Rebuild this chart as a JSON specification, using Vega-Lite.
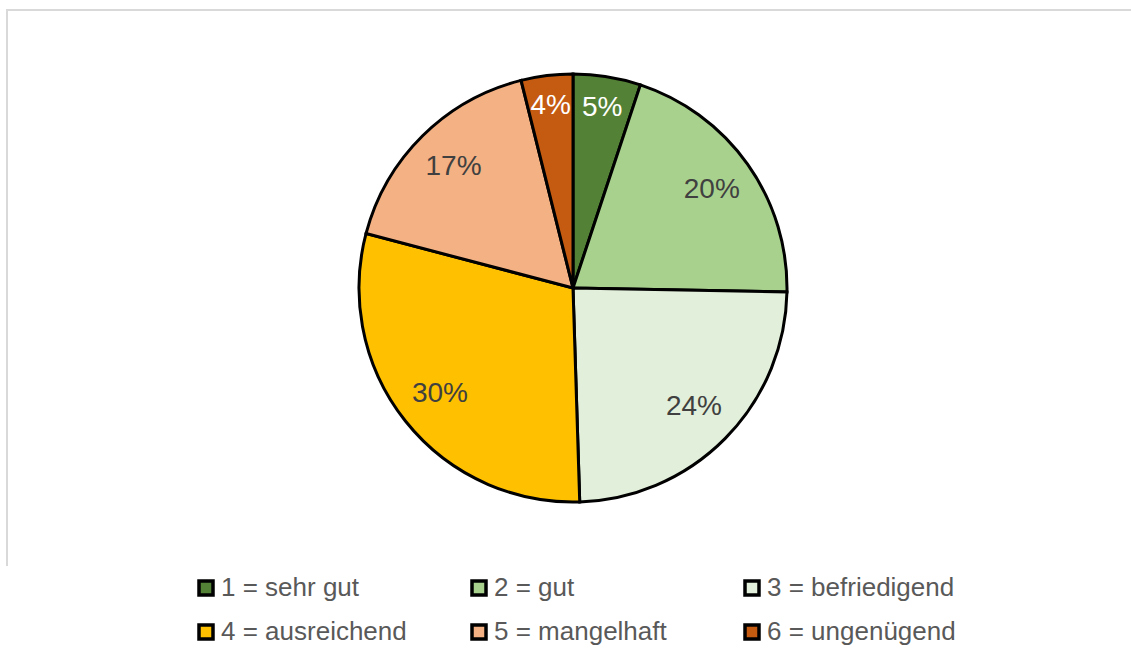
{
  "$schema": "https://vega.github.io/schema/vega-lite/v6.json",
  "width": 1132,
  "height": 556,
  "autosize": {"type": "none"},
  "padding": {"left": 7, "top": 10, "right": -8, "bottom": 93},
  "background": "white",
  "config": {
    "view": {"stroke": null},
    "font": "Liberation Sans"
  },
  "layer": [
    {
      "data": {"values": [{"frame": 1}]},
      "mark": {"type": "rect", "filled": false, "stroke": "#d9d9d9", "strokeWidth": 2, "strokeDash": [1132, 1688, 560, 0]},
      "encoding": {}
    },
    {
      "data": {"name": "grades"},
      "mark": {"type": "arc", "outerRadius": 214, "stroke": "black", "strokeWidth": 3},
      "encoding": {
        "theta": {"field": "value", "type": "quantitative", "stack": true},
        "order": {"field": "order", "type": "quantitative"},
        "color": {
          "field": "grade",
          "type": "nominal",
          "scale": {
            "domain": ["1 = sehr gut", "2 = gut", "3 = befriedigend", "4 = ausreichend", "5 = mangelhaft", "6 = ungenügend"],
            "range": ["#538135", "#A9D18E", "#E2EFDA", "#FFC000", "#F4B183", "#C55A11"]
          },
          "legend": {
            "title": null,
            "orient": "none",
            "legendX": 186,
            "legendY": 565,
            "direction": "horizontal",
            "columns": 3,
            "gridAlign": "all",
            "columnPadding": 55,
            "rowPadding": 16,
            "symbolType": "square",
            "symbolSize": 196,
            "symbolStrokeColor": "black",
            "symbolStrokeWidth": 3.5,
            "symbolOpacity": 1,
            "labelFontSize": 26,
            "labelColor": "#595959",
            "labelFont": "Liberation Sans",
            "labelOffset": 2,
            "labelLimit": 300,
            "padding": 0
          }
        }
      }
    },
    {
      "data": {"name": "grades"},
      "mark": {"type": "text", "fontSize": 28, "font": "Liberation Sans"},
      "encoding": {
        "theta": {"field": "value", "type": "quantitative", "stack": true},
        "order": {"field": "order", "type": "quantitative"},
        "text": {"field": "label", "type": "nominal"},
        "radius": {"field": "value", "type": "quantitative", "scale": {"type": "linear", "domain": [5, 10], "range": [183, 170], "clamp": true, "zero": false}},
        "color": {"condition": {"test": "datum.value < 10", "value": "white"}, "value": "#404040"}
      }
    }
  ],
  "datasets": {
    "grades": [
      {"order": 1, "grade": "1 = sehr gut", "value": 5.1, "label": "5%"},
      {"order": 2, "grade": "2 = gut", "value": 20.2, "label": "20%"},
      {"order": 3, "grade": "3 = befriedigend", "value": 24.2, "label": "24%"},
      {"order": 4, "grade": "4 = ausreichend", "value": 29.6, "label": "30%"},
      {"order": 5, "grade": "5 = mangelhaft", "value": 17.0, "label": "17%"},
      {"order": 6, "grade": "6 = ungenügend", "value": 3.9, "label": "4%"}
    ]
  }
}
